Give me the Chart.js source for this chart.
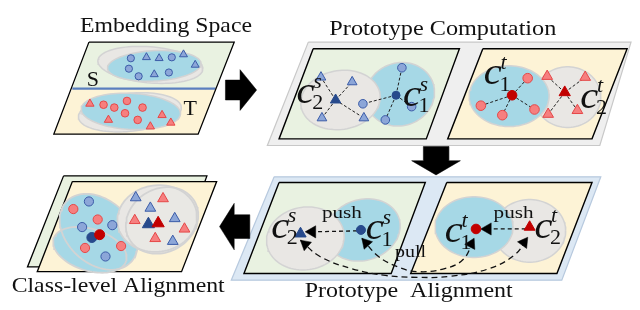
<!DOCTYPE html>
<html><head><meta charset="utf-8">
<script src="https://cdn.jsdelivr.net/npm/chart.js@4.4.0/dist/chart.umd.min.js"></script>
<style>html,body{margin:0;padding:0;background:#fff;}canvas{display:block;}</style>
</head><body>
<canvas id="c" width="640" height="310"></canvas>
<script>
// ===== Diagram data (x: 0-640 to the right, y: 0-310 downward) =====
const titles = ['Embedding Space', 'Prototype Computation', 'Class-level Alignment', 'Prototype  Alignment'];
const domainLetters = ['S', 'T'];
const actionWords = ['push', 'push', 'pull'];

// panels
const embedGreen   = [[83,36],[232,36],[213,85],[66,85]];
const embedYellow  = [[66,85],[213,85],[195,133],[47,133]];
const embedOutline = [[83,36],[232,36],[195,133],[47,133]];
const embedDivider = [[66,85],[213,85]];
const compOuter    = [[308,36],[639,36],[607,145],[266,145]];
const compGreen    = [[313,43],[463,43],[429,138],[278,138]];
const compYellow   = [[487,43],[635,43],[599,138],[451,138]];
const alignOuter   = [[273,178],[608,178],[568,287],[229,287]];
const alignGreen   = [[278,184],[428,184],[393,280],[242,280]];
const alignYellow  = [[450,184],[599,184],[563,280],[413,280]];
const classBack    = [[57,177],[204,177],[170,273],[20,273]];
const classFront   = [[66,183],[214,183],[178,278],[30,278]];

// block arrows
const arrowRight = [[223,76],[238,76],[238,65],[255,86.5],[238,108],[238,97],[223,97]];
const arrowDown  = [[426,146],[452,146],[452,161],[464,161],[439,176],[414,161],[426,161]];
const arrowLeft  = [[248,218],[232,218],[232,206],[217,230.5],[232,255],[232,243],[248,243]];

// clusters: [cx, cy, rx, ry, rotation deg]
const embedSGray = [146,60,54,19,5],   embedSBlue = [150,61,48,16,-3];
const embedTGray = [125,110,53,20,-6], embedTBlue = [126,109,51,19,3];
const compSBlue  = [402,91,36,33,-25], compSGray  = [341,97,41,31,-10];
const compTGray  = [574,94,34,32,0],   compTBlue  = [514,93,41,32,0];
const alignSBlue = [364,234,39,32,-20], alignSGray = [305,243,40,33,-10];
const alignTGray = [535,235,37,33,0],  alignTBlue = [478,231,40,32,0];
const classBlueA = [93,236,46,33,45],  classBlueB = [84,255,39,22,18];
const classGrayA = [153,222,41,35,-10], classGrayB = [158,224,39,33,-35];

// samples
const embedSCircles   = [[126,53],[168,52],[124,64],[134,72],[165,68]];
const embedSTriangles = [[142,52],[155,53],[180,49],[192,60],[150,70]];
const embedTCircles   = [[98,102],[109,105],[122,98],[120,111],[138,105],[133,118]];
const embedTTriangles = [[84,101],[103,118],[158,113],[146,125],[167,121]];

const compSTriangles = [[321,73],[353,78],[322,116],[365,116]];
const compSCircles   = [[364,101],[404,63],[414,104],[387,118]];
const compSProtoTri  = [[336,97]];
const compSProtoCirc = [[398,92]];
const compTCircles   = [[533,74],[485,103],[507,113],[540,107]];
const compTTriangles = [[553,72],[592,73],[554,112],[584,108]];
const compTProtoCirc = [[517,92]];
const compTProtoTri  = [[571,89]];

const alignSProtoTri  = [[300,238]];
const alignSProtoCirc = [[362,234]];
const alignTProtoCirc = [[480,233]];
const alignTProtoTri  = [[535,231]];

const classBlueCircles = [[83,204],[76,231],[107,229],[100,262]];
const classRedCircles  = [[67,212],[92,223],[79,253],[116,251]];
const classBlueTris    = [[131,200],[146,211],[171,222],[169,246]];
const classRedTris     = [[159,201],[130,224],[181,233],[151,243]];
const classProtoBlueC  = [[86,242]];
const classProtoRedC   = [[94,239]];
const classProtoBlueT  = [[144,228]];
const classProtoRedT   = [[154,227]];

// push / pull arrows (paths)
const pushS = [[358,235],[312,236]];
const pushT = [[531,233],[492,233]];
const pullA = [[363,243],[380,262],[400,273],[420,278],[447,275],[467,265],[478,243]];
const pullB = [[300,245],[320,262],[353,275],[387,282],[420,284],[453,283],[493,275],[520,260],[533,242]];

// prototype labels: [x of c, baseline, subscript, superscript]
const compLabels  = [[296,100,'2','s'],[405,103,'1','s'],[488,80,'1','t'],[587,105,'2','t']];
const alignLabels = [[270,242,'2','s'],[367,244,'1','s'],[448,247,'1','t'],[540,242,'2','t']];

// ===== colours =====
const C = {
  green:'#e9f2e1', yellow:'#fdf3d6', cyan:'#a6d8e6', gray:'#e9e7e4', edge:'#d3d3d3',
  outerGray:'#efefef', outerGrayEdge:'#c8c8c8', outerBlue:'#dce8f4', outerBlueEdge:'#b7c9de',
  bFill:'#8ca6d8', bEdge:'#3b5ca8', rFill:'#f67f7f', rEdge:'#e54848', dBlue:'#274a8c', dRed:'#c20000',
  ink:'#000000'
};

// ===== build datasets =====
const toXY = a => a.map(p => ({x:p[0], y:p[1]}));
const closed = a => toXY([...a, a[0]]);
function ellipsePts(e){
  const [cx,cy,rx,ry,rot] = e, r = rot*Math.PI/180, pts = [];
  for (let i=0;i<=90;i++){ const t=i/90*2*Math.PI, x=rx*Math.cos(t), y=ry*Math.sin(t);
    pts.push({x:cx+x*Math.cos(r)-y*Math.sin(r), y:cy+x*Math.sin(r)+y*Math.cos(r)}); }
  return pts;
}
const layers = [];
function shape(data, fillColor, stroke, bw){
  layers.push({data, showLine:true, fill: fillColor ? 'shape' : false,
    backgroundColor: fillColor || 'rgba(0,0,0,0)', borderColor: stroke || 'rgba(0,0,0,0)',
    borderWidth: bw || 0, pointRadius:0, tension:0, borderJoinStyle:'miter'});
}
const poly = (p,f,s,w) => shape(closed(p),f,s,w);
const ell = (e,f,s,w) => shape(ellipsePts(e),f,s,w);
function line(p, color, bw, dash, tension){
  layers.push({data: toXY(p), showLine:true, fill:false, borderColor:color, borderWidth:bw,
    borderDash: dash || [], pointRadius:0, tension: tension || 0});
}
function marks(p, style, r, bg, edge, bw, rot){
  layers.push({data: toXY(p), showLine:false, fill:false, pointStyle:style, pointRadius:r,
    pointBackgroundColor:bg, pointBorderColor:edge, pointBorderWidth:bw, pointRotation: rot || 0});
}
function spokes(center, pts){ pts.forEach(p => line([center, p], '#222', 1, [3,2])); }
function headAt(tip, prev, r){
  const dx = tip[0]-prev[0], dy = tip[1]-prev[1], L = Math.hypot(dx,dy), ux = dx/L, uy = dy/L;
  const rot = Math.atan2(ux, -uy) * 180/Math.PI;
  marks([[tip[0]-ux*r, tip[1]-uy*r]], 'triangle', r, C.ink, C.ink, 0.5, rot);
}

// --- Embedding space ---
poly(embedGreen, C.green);
poly(embedYellow, C.yellow);
ell(embedSGray, C.gray, C.edge, 1.5); ell(embedSBlue, C.cyan, C.edge, 1.5);
ell(embedTGray, C.gray, C.edge, 1.5); ell(embedTBlue, C.cyan, C.edge, 1.5);
marks(embedSCircles, 'circle', 3.6, C.bFill, C.bEdge, 1);
marks(embedSTriangles, 'triangle', 4.6, C.bFill, C.bEdge, 1);
marks(embedTCircles, 'circle', 3.8, C.rFill, C.rEdge, 1);
marks(embedTTriangles, 'triangle', 4.8, C.rFill, C.rEdge, 1);
line(embedDivider, '#5a7fbf', 2.2);
poly(embedOutline, null, C.ink, 1.3);

// --- Prototype computation ---
poly(compOuter, C.outerGray, C.outerGrayEdge, 1.2);
poly(compGreen, C.green, C.ink, 1.4);
poly(compYellow, C.yellow, C.ink, 1.4);
ell(compSBlue, C.cyan, C.edge, 1.5); ell(compSGray, C.gray, C.edge, 1.5);
ell(compTGray, C.gray, C.edge, 1.5); ell(compTBlue, C.cyan, C.edge, 1.5);
spokes(compSProtoTri[0], compSTriangles);
spokes(compSProtoCirc[0], compSCircles);
spokes(compTProtoCirc[0], compTCircles);
spokes(compTProtoTri[0], compTTriangles);
marks(compSTriangles, 'triangle', 5.6, C.bFill, C.bEdge, 1);
marks(compSCircles, 'circle', 4.3, C.bFill, C.bEdge, 1);
marks(compSProtoTri, 'triangle', 6, C.dBlue, C.dBlue, 1);
marks(compSProtoCirc, 'circle', 4, C.dBlue, C.dBlue, 1);
marks(compTCircles, 'circle', 4.8, C.rFill, C.rEdge, 1);
marks(compTTriangles, 'triangle', 6.2, C.rFill, C.rEdge, 1);
marks(compTProtoCirc, 'circle', 4.8, C.dRed, C.dRed, 1);
marks(compTProtoTri, 'triangle', 6.5, C.dRed, C.dRed, 1);

// --- Prototype alignment ---
poly(alignOuter, C.outerBlue, C.outerBlueEdge, 1.2);
poly(alignGreen, C.green, C.ink, 1.4);
poly(alignYellow, C.yellow, C.ink, 1.4);
ell(alignSBlue, C.cyan, C.edge, 1.5); ell(alignSGray, C.gray, C.edge, 1.5);
ell(alignTGray, C.gray, C.edge, 1.5); ell(alignTBlue, C.cyan, C.edge, 1.5);
line(pushS, '#111', 1.3, [4,3]);
line(pushT, '#111', 1.3, [4,3]);
line(pullA, '#111', 1.3, [6,4], 0.4);
line(pullB, '#111', 1.3, [6,4], 0.4);
headAt([305,236], [320,236], 7);
headAt([485,233], [500,233], 7);
headAt(pullA[0], pullA[1], 6.5); headAt(pullA[pullA.length-1], pullA[pullA.length-2], 6.5);
headAt(pullB[0], pullB[1], 6.5); headAt(pullB[pullB.length-1], pullB[pullB.length-2], 6.5);
marks(alignSProtoTri, 'triangle', 6.5, C.dBlue, C.dBlue, 1);
marks(alignSProtoCirc, 'circle', 4.5, C.dBlue, C.dBlue, 1);
marks(alignTProtoCirc, 'circle', 4.8, C.dRed, C.dRed, 1);
marks(alignTProtoTri, 'triangle', 6.3, C.dRed, C.dRed, 1);

// --- Class-level alignment ---
poly(classBack, C.green, C.ink, 1.3);
poly(classFront, C.yellow, C.ink, 1.3);
ell(classBlueB, C.cyan); ell(classBlueA, C.cyan);
ell(classBlueB, null, C.edge, 1.8); ell(classBlueA, null, C.edge, 1.8);
ell(classGrayA, C.gray); ell(classGrayB, 'rgba(233,231,228,0.85)');
ell(classGrayA, null, C.edge, 1.8); ell(classGrayB, null, C.edge, 1.8);
marks(classBlueCircles, 'circle', 4.6, C.bFill, C.bEdge, 1);
marks(classRedCircles, 'circle', 4.6, C.rFill, C.rEdge, 1);
marks(classBlueTris, 'triangle', 6.2, C.bFill, C.bEdge, 1);
marks(classRedTris, 'triangle', 6.2, C.rFill, C.rEdge, 1);
marks(classProtoBlueC, 'circle', 5, C.dBlue, C.dBlue, 1);
marks(classProtoRedC, 'circle', 5, C.dRed, C.dRed, 1);
marks(classProtoBlueT, 'triangle', 7, C.dBlue, C.dBlue, 1);
marks(classProtoRedT, 'triangle', 7, C.dRed, C.dRed, 1);

// --- block arrows ---
poly(arrowRight, C.ink, C.ink, 0.5);
poly(arrowDown, C.ink, C.ink, 0.5);
poly(arrowLeft, C.ink, C.ink, 0.5);

layers.forEach((d,i) => { d.order = layers.length - i; });

// ===== text layer =====
const SERIF = '"Liberation Serif", "Times New Roman", serif';
const textPlugin = {
  id:'diagramText',
  afterDatasetsDraw(chart){
    const ctx = chart.ctx, xs = chart.scales.x, ys = chart.scales.y;
    const X = v => xs.getPixelForValue(v), Y = v => ys.getPixelForValue(v);
    function txt(s, x, y, size, o){
      o = o || {};
      ctx.font = (o.italic ? 'italic ' : '') + size + 'px ' + SERIF;
      const w = ctx.measureText(s).width, tw = o.width || w, sx = tw / w;
      const left = o.center ? X(x) - tw/2 : X(x);
      ctx.save(); ctx.translate(left, Y(y)); ctx.scale(sx, 1);
      ctx.fillStyle = '#111'; ctx.textAlign = 'left'; ctx.textBaseline = 'alphabetic';
      ctx.fillText(s, 0, 0); ctx.restore();
    }
    txt(titles[0], 162, 25, 21, {center:true, width:172});
    txt(titles[1], 446, 28, 21, {center:true, width:227});
    txt(titles[2], 113, 299, 21, {center:true, width:213});
    txt(titles[3], 411, 305, 21, {center:true, width:208});
    txt(domainLetters[0], 87, 82, 22, {center:true});
    txt(domainLetters[1], 187, 113, 22, {center:true});
    txt(actionWords[0], 322, 221, 17, {width:40});
    txt(actionWords[1], 498, 221, 17, {width:40});
    txt(actionWords[2], 397, 263, 17, {width:31});
    [...compLabels, ...alignLabels].forEach(([x, y, sub, sup]) => {
      txt('c', x, y, 37, {italic:true, width:18});
      txt(sub, x + 16, y + 7, 22);
      txt(sup, x + 17, y - 16, 22, {italic:true});
    });
  }
};

new Chart(document.getElementById('c'), {
  type:'line',
  data:{ datasets: layers },
  options:{
    responsive:false, animation:false, events:[],
    layout:{ padding:0 },
    scales:{
      x:{ type:'linear', min:0, max:640, display:false },
      y:{ type:'linear', min:0, max:310, reverse:true, display:false }
    },
    plugins:{ legend:{display:false}, tooltip:{enabled:false}, filler:{propagate:false} }
  },
  plugins:[textPlugin]
});
</script>
</body></html>
